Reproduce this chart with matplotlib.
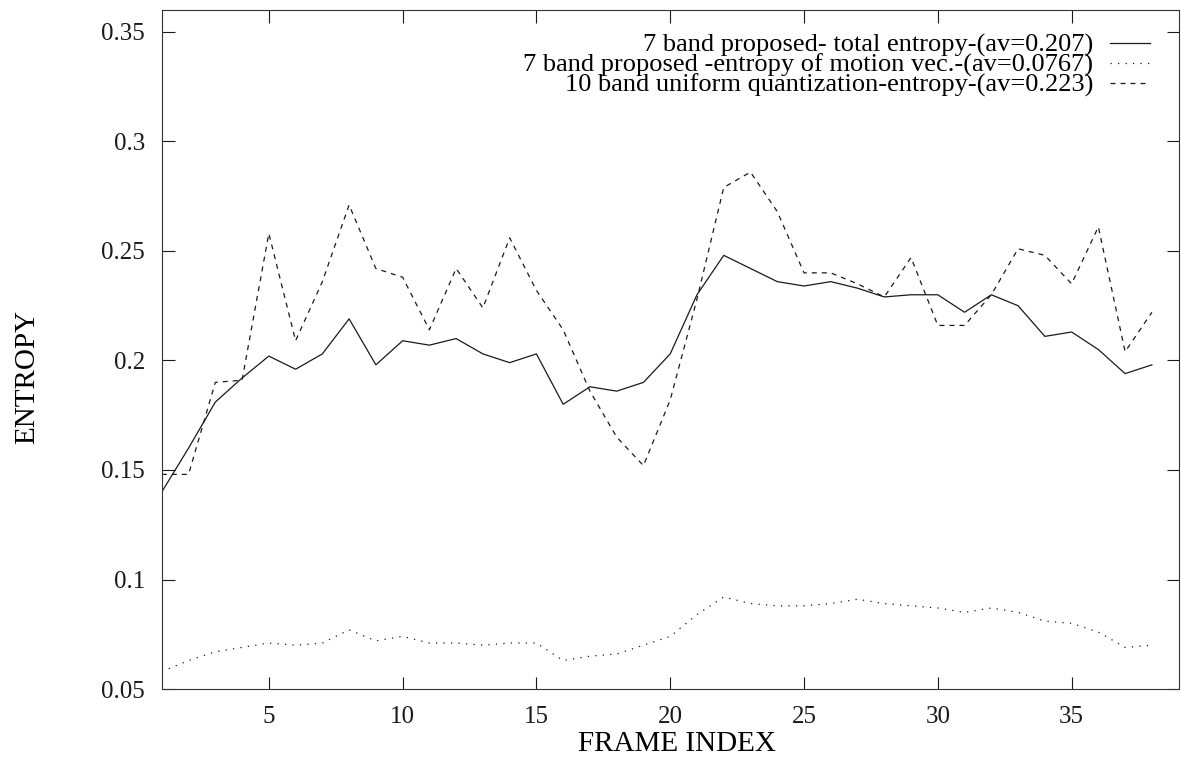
import numpy as np
import matplotlib
matplotlib.use("Agg")
import matplotlib.pyplot as plt

plt.rcParams['font.family'] = ['Liberation Serif', 'DejaVu Serif']

frames = np.arange(1, 39)

# 7 band proposed - total entropy
total = [0.140, 0.160, 0.181, 0.192, 0.202, 0.196, 0.203, 0.219, 0.198, 0.209,
         0.207, 0.210, 0.203, 0.199, 0.203, 0.180, 0.188, 0.186, 0.190, 0.203,
         0.230, 0.248, 0.242, 0.236, 0.234, 0.236, 0.233, 0.229, 0.230, 0.230,
         0.222, 0.230, 0.225, 0.211, 0.213, 0.205, 0.194, 0.198]

# 7 band proposed - entropy of motion vectors
motion = [0.058, 0.063, 0.067, 0.069, 0.071, 0.070, 0.071, 0.077, 0.072, 0.074,
          0.071, 0.071, 0.070, 0.071, 0.071, 0.063, 0.065, 0.066, 0.070, 0.074,
          0.084, 0.092, 0.089, 0.088, 0.088, 0.089, 0.091, 0.089, 0.088, 0.087,
          0.085, 0.087, 0.085, 0.081, 0.080, 0.076, 0.069, 0.070]

# 10 band uniform quantization
uniform = [0.148, 0.148, 0.190, 0.191, 0.258, 0.209, 0.236, 0.271, 0.242, 0.238,
           0.214, 0.242, 0.224, 0.256, 0.232, 0.214, 0.186, 0.165, 0.152, 0.182,
           0.228, 0.279, 0.286, 0.268, 0.240, 0.240, 0.235, 0.229, 0.247, 0.216,
           0.216, 0.230, 0.251, 0.248, 0.235, 0.261, 0.204, 0.222]

labels = ['7 band proposed- total entropy-(av=0.207)',
          '7 band proposed -entropy of motion vec.-(av=0.0767)',
          '10 band uniform quantization-entropy-(av=0.223)']

fig = plt.figure(figsize=(11.81, 7.6), dpi=100)
ax = fig.add_axes([0.137, 0.0934, 0.861, 0.8934])

c = '#1a1a1a'
ax.plot(frames, total, color=c, lw=0.9, label=labels[0])
ax.plot(frames, motion, color=c, lw=0.9, linestyle=(0, (1, 5)), label=labels[1])
ax.plot(frames, uniform, color=c, lw=0.9, linestyle=(0, (4, 4)), label=labels[2])

ax.set_xlim(1, 39)
ax.set_ylim(0.05, 0.36)
ax.set_xticks([5, 10, 15, 20, 25, 30, 35])
yt = [0.05, 0.1, 0.15, 0.2, 0.25, 0.3, 0.35]
ax.set_yticks(yt)
ax.set_yticklabels(['0.05', '0.1', '0.15', '0.2', '0.25', '0.3', '0.35'])
ax.tick_params(direction='in', length=9, width=0.8, top=True, right=True,
               labelsize=18, colors=c)
ax.tick_params(axis='y', pad=12)
ax.tick_params(axis='x', pad=12)
for s in ax.spines.values():
    s.set_linewidth(0.8)
    s.set_color('#333333')

ax.set_xlabel('FRAME INDEX', fontsize=21)
ax.xaxis.set_label_coords(0.507, -0.062)
ax.set_ylabel('ENTROPY', fontsize=21)
ax.yaxis.set_label_coords(-0.12, 0.46)

# legend rows sit tight like the original gnuplot key
ax.legend(loc='upper right', frameon=False, markerfirst=False, fontsize=19,
          labelspacing=-0.15, handlelength=1.5, handletextpad=0.65,
          borderaxespad=0.0, bbox_to_anchor=(0.982, 0.981))

fig.savefig('out.png', dpi=100)
